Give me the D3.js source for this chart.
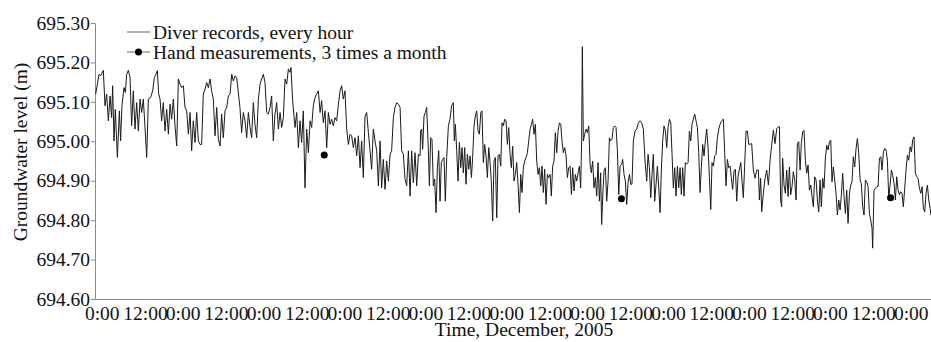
<!DOCTYPE html>
<html>
<head>
<meta charset="utf-8">
<script src="https://cdn.jsdelivr.net/npm/d3@7"></script>
<style>
  body { margin: 0; background: #fff; }
  svg text { font-family: "Liberation Serif", "Times New Roman", Times, serif !important; }
</style>
</head>
<body>
<div id="chart"></div>
<script>
// hourly diver readings [hour of month, level m]
const diverRecords = [
  [0.6,695.120],[3.6,695.170],[5.0,695.166],[7.4,695.180],[8.9,695.090],[10.4,695.120],[11.9,695.052],[13.4,695.115],
  [14.8,695.060],[15.7,695.141],[16.9,695.001],[18.1,695.081],[19.9,694.959],[21.7,695.077],[22.8,695.001],[24.0,695.090],
  [25.8,695.136],[27.0,695.124],[28.2,695.170],[29.7,695.180],[31.2,695.162],[32.6,695.039],[34.1,695.128],[35.6,695.031],
  [37.1,695.098],[38.6,695.026],[40.1,695.107],[41.5,695.073],[43.0,695.107],[44.5,695.035],[46.0,694.959],[47.5,695.107],
  [49.5,695.111],[51.3,695.128],[52.8,695.162],[54.3,695.170],[55.5,695.179],[56.7,695.120],[57.9,695.107],[59.3,695.052],
  [60.8,695.098],[62.3,695.026],[63.8,695.081],[65.3,695.018],[66.8,695.094],[68.2,695.056],[69.7,695.107],[71.2,695.039],
  [72.7,694.988],[74.2,695.158],[75.7,695.145],[77.1,695.136],[78.6,695.141],[80.1,695.086],[81.6,695.077],[83.1,695.018],
  [84.6,695.073],[86.0,694.976],[87.5,695.052],[89.0,694.997],[90.5,695.073],[92.0,695.001],[93.5,694.992],[94.9,694.992],
  [96.4,695.120],[97.9,695.132],[99.4,695.149],[100.9,695.136],[102.4,695.158],[103.8,695.128],[105.3,695.107],[106.8,695.014],
  [108.3,695.086],[109.8,695.005],[111.3,694.988],[112.7,695.069],[114.2,695.009],[115.7,695.077],[117.2,695.086],[118.7,695.115],
  [120.2,695.120],[121.7,695.170],[123.1,695.153],[124.6,695.166],[126.1,695.162],
  [129.0,695.086],[130.5,695.022],[132.0,695.073],[133.5,695.052],[135.0,695.009],[136.5,695.073],[138.0,695.035],[139.4,695.009],
  [140.9,695.098],[142.4,695.043],[143.9,695.009],[145.4,695.107],[146.9,695.145],[148.3,695.158],[149.8,695.170],[151.3,695.149],
  [152.8,695.073],[154.3,695.069],[155.8,695.086],[157.2,695.115],[158.7,695.001],[160.2,695.069],[161.7,695.098],[163.2,695.031],
  [164.7,695.073],[166.1,695.035],[167.6,695.060],[169.1,695.158],[170.6,695.145],[172.1,695.183],[173.6,695.175],[174.4,695.187],
  [175.9,695.103],[178.0,695.035],[179.5,695.073],[181.0,694.984],[182.5,695.052],[183.9,694.997],[185.4,695.077],[186.9,694.882],
  [188.4,695.031],[189.9,694.971],[191.4,695.052],[192.8,695.035],[194.3,695.090],[195.8,695.111],[197.3,695.120],[198.8,695.128],
  [200.3,695.073],[201.7,695.103],[203.2,695.047],[204.7,695.077],[206.2,694.984],[207.7,695.073],[209.2,695.043],[210.6,695.056],
  [212.1,695.039],[213.6,695.060],[215.1,695.052],[216.6,695.094],[218.1,695.128],[219.5,695.141],[221.0,695.107],[222.5,695.128],
  [224.0,695.031],[225.5,694.992],[227.0,695.018],[228.4,695.014],[229.9,694.984],[231.4,695.009],[232.9,694.963],[234.4,695.014],
  [235.9,694.933],[237.3,695.001],[238.8,694.908],[240.3,695.064],[241.8,695.073],[243.3,695.022],[244.8,694.976],[246.2,694.929],
  [247.7,695.031],[249.2,695.001],[250.7,694.976],[252.2,694.887],[253.7,695.001],[255.1,694.882],[256.6,694.954],[258.1,694.878],
  [259.6,694.950],[261.1,694.899],[262.6,694.967],[264.0,694.976],[265.5,695.060],[267.0,695.086],[268.5,695.098],[270.0,695.094],
  [271.5,695.086],[272.9,694.976],[274.4,694.967],[275.9,694.904],
  [277.4,694.887],[278.9,694.976],[280.4,694.861],[281.8,694.976],[283.3,694.895],[284.8,694.971],[286.3,694.887],[287.8,694.967],
  [289.3,694.963],[289.8,695.026],[290.7,695.031],[291.6,694.980],[292.8,695.064],[294.0,695.073],[295.2,695.086],[296.7,694.976],
  [297.6,694.887],[298.7,695.009],[299.9,695.005],[301.1,694.887],[302.3,694.904],[303.5,694.819],[304.7,694.933],[305.9,694.976],
  [307.1,694.848],[308.2,694.946],[309.4,694.954],[310.6,694.959],[311.8,694.848],[313.0,694.959],[314.5,695.039],[315.9,695.056],
  [317.4,695.090],[318.9,695.098],[319.8,695.001],[320.7,695.043],[321.9,694.976],[323.1,694.899],[324.3,694.997],[325.5,694.933],
  [326.6,694.984],[327.8,694.920],[329.0,694.984],[330.2,694.891],[331.4,694.967],[332.6,694.929],[333.8,694.963],[335.0,694.908],
  [336.1,694.959],[337.3,695.039],[338.5,695.064],[339.7,695.077],[340.9,695.026],[342.1,695.018],[343.3,695.073],[344.4,695.077],
  [345.6,694.946],[346.8,694.992],[348.0,694.963],[349.2,694.908],[350.4,694.984],[351.6,694.946],[352.7,694.899],[353.9,694.798],
  [355.1,694.950],[356.3,694.959],[357.5,694.806],[358.7,694.963],[359.9,694.967],[361.1,694.937],[362.2,695.047],[363.4,695.039],
  [364.6,695.056],[365.8,695.052],[367.0,694.992],[368.2,695.035],[369.4,694.967],[370.5,694.933],[371.7,694.988],[372.9,694.899],
  [374.1,694.916],[375.3,694.946],[376.5,694.891],[377.7,694.819],[378.9,694.916],[380.0,694.870],[381.2,694.933],[382.4,694.950],
  [383.6,694.959],[384.8,694.971],[386.0,695.001],[387.2,695.031],[388.4,695.043],[389.5,695.056],[390.7,695.018],[391.9,695.043],
  [393.1,694.950],[394.3,694.916],[395.5,694.933],[396.7,694.887],[397.8,694.937],[399.0,694.870],[400.2,694.929],[401.4,694.840],
  [402.6,694.916],[403.8,694.908],[405.0,694.916],[406.1,694.861],[407.3,694.937],[408.5,694.950],[409.7,695.022],[410.9,694.971],
  [412.1,695.026],[413.3,695.047],[414.5,695.043],[415.6,695.001],[416.8,694.971],[418.0,694.984],[419.2,694.963],[420.4,694.908],
  [421.6,694.933],[422.8,694.937],[424.0,694.865],[425.1,694.933],[426.3,694.874],[427.5,694.916],[428.7,694.899],[430.2,694.925],
  [431.1,694.937],[432.2,694.882],[433.1,695.001],[433.7,695.240],[434.6,695.001],[435.8,695.018],[437.0,695.031],[438.2,695.022],
  [439.4,695.039],[440.6,694.942],[441.7,694.920],[442.9,694.950],[444.1,694.882],[445.3,694.908],[446.5,694.861],[447.7,694.946],
  [448.9,694.848],[450.0,694.920],[450.9,694.789],[451.8,694.857],[453.0,694.925],[454.2,694.933],[455.4,694.848],[456.6,694.899],
  [457.8,695.009],[458.9,695.001],[460.1,695.005],[461.3,695.035],[462.5,695.039],[463.7,695.035],[464.9,694.976],[466.1,694.865],
  [467.3,694.937],[468.7,694.942],[469.6,694.954],[470.8,694.916],[472.0,694.899],[473.2,694.840],[474.4,694.895],[475.6,694.916],
  [476.8,694.891],[477.9,694.891],[479.1,695.001],[480.6,695.026],[482.1,695.031],[483.6,695.047],[485.1,695.052],[486.5,695.047],
  [488.0,695.031],[489.5,694.950],[491.0,694.899],[492.2,694.967],[493.4,694.933],[494.6,694.857],[495.7,694.916],[496.9,694.967],
  [498.1,694.848],[499.3,694.891],[500.5,694.937],[501.7,694.882],[502.9,694.819],[504.0,694.925],[505.2,695.001],[506.4,695.039],
  [507.6,695.026],[508.8,694.984],[510.0,695.035],[511.2,695.056],[512.4,695.047],[513.5,694.971],[514.7,694.882],[515.9,694.933],
  [517.1,694.861],[518.3,694.937],[519.5,694.882],[520.7,694.933],[521.8,694.865],[523.0,694.933],[524.2,694.861],[525.4,694.946],
  [526.6,694.942],[527.8,694.946],[529.0,695.026],[530.2,695.001],[531.3,695.043],[532.5,695.056],[533.7,695.069],[534.9,695.052],
  [536.1,695.035],[537.3,694.971],[538.5,694.870],[539.6,694.933],[540.8,694.992],[542.0,694.963],[543.2,695.001],[544.4,695.031],
  [545.6,694.984],[546.8,694.908],[548.0,694.827],[549.1,694.946],[550.3,694.937],[551.5,694.963],[552.7,694.967],[553.9,695.009],
  [555.1,695.031],[556.3,695.043],[557.7,695.052],[559.2,695.056],[560.4,694.971],[561.6,694.887],[562.8,694.954],[564.0,694.933],
  [565.2,694.937],[566.3,694.908],[567.5,694.878],[568.7,694.925],[569.9,694.929],[571.1,694.848],[572.3,694.912],[573.5,694.929],
  [574.7,694.946],[575.8,694.899],[577.0,694.857],[578.2,694.942],[579.4,695.026],[580.6,695.026],[581.8,694.992],
  [584.4,694.994],[585.9,694.927],[587.4,694.906],[588.9,694.927],[590.4,694.927],[591.3,694.851],[592.4,694.906],[593.3,694.821],
  [594.8,694.868],[596.3,694.906],[597.8,694.927],[599.3,694.889],[600.8,694.952],[602.2,694.990],[603.7,695.028],[605.2,694.994],
  [606.7,695.032],[608.2,695.037],[609.1,695.037],[610.2,694.851],[611.1,694.834],[612.0,694.957],[613.2,694.889],[614.4,694.868],
  [615.6,694.927],[616.8,694.860],[618.0,694.935],[619.1,694.864],[620.3,694.885],[621.5,694.923],[622.7,694.902],[623.9,694.851],
  [625.1,694.994],[626.3,694.999],[627.5,694.927],[628.6,694.994],[629.8,695.024],[631.0,695.028],[632.2,694.952],[633.4,694.919],
  [634.6,694.940],[635.8,694.876],[637.0,694.889],[638.1,694.860],[639.3,694.834],[640.5,694.910],[641.7,694.902],[642.9,694.851],
  [644.1,694.821],[645.3,694.902],[646.4,694.834],[647.6,694.906],[648.8,694.881],[650.0,694.957],[651.2,694.990],[652.4,694.978],
  [653.6,694.999],[654.8,695.003],[655.9,694.897],[657.1,694.935],[658.3,694.902],[659.5,694.868],[660.7,694.813],[661.9,694.851],
  [663.1,694.826],[664.2,694.864],[665.4,694.919],[666.6,694.860],[667.8,694.817],[669.0,694.876],[670.2,694.792],[671.4,694.868],
  [672.6,694.889],[673.7,694.897],[674.9,694.961],[676.1,694.935],[677.3,694.982],[678.5,695.007],[679.7,694.969],[680.9,694.902],
  [682.0,694.893],[683.2,694.834],[684.4,694.813],[685.6,694.902],[686.8,694.897],[688.0,694.885],[689.2,694.817],[690.4,694.800],
  [691.5,694.779],[692.1,694.729],[693.3,694.876],[694.5,694.881],[695.7,694.885],[696.9,694.885],[698.1,694.957],[699.3,694.961],
  [700.4,694.927],[701.6,694.973],[702.8,694.982],[704.0,694.978],[705.2,694.952],[706.4,694.855],[707.6,694.889],[708.7,694.927],
  [709.9,694.914],[711.1,694.893],[712.3,694.851],[713.5,694.910],[714.7,694.876],[715.9,694.864],[717.1,694.872],[718.2,694.868],
  [719.4,694.834],[720.6,694.881],[721.8,694.927],[723.0,694.965],[724.2,694.952],[725.4,694.986],[726.6,694.973],[727.7,695.003],
  [728.9,695.011],[730.1,694.919],[731.3,694.910],[732.5,694.906],[733.7,694.881],[734.9,694.868],[736.1,694.885],[737.2,694.830],
  [738.4,694.821],[739.6,694.868],[740.8,694.889],[742.0,694.851],[743.2,694.830],[744.0,694.812]
]

// hand measurements, 3 times a month
const handHours = [204, 468.5, 708]
const handLevels = [694.965, 694.854, 694.857]

const yTicks = [694.6, 694.7, 694.8, 694.9, 695.0, 695.1, 695.2, 695.3]
const xTickHours = d3.range(0, 721, 36)
const xTickLabels = xTickHours.map((h, i) => i % 2 === 0 ? "0:00" : "12:00")

const lineColor = "#1a1a1a"
const axisColor = "#8a8a8a"
const textColor = "#111"
const fontSize = 19.5

const width = 931
const height = 342
const margin = { top: 23, right: 0, bottom: 43, left: 95 }
const innerW = width - margin.left - margin.right
const innerH = height - margin.top - margin.bottom

const svg = d3.select("#chart").append("svg")
  .attr("width", width)
  .attr("height", height)

const bounds = svg.append("g")
  .attr("transform", `translate(${margin.left},${margin.top})`)

const xScale = d3.scaleLinear().domain([0, 744]).range([0, innerW])
const yScale = d3.scaleLinear().domain([694.6, 695.3]).range([innerH, 0])

// axes
const yAxis = bounds.append("g")
  .call(d3.axisLeft(yScale).tickValues(yTicks).tickFormat(d3.format(".2f"))
    .tickSizeInner(4).tickSizeOuter(0).tickPadding(1))
yAxis.selectAll("text").attr("font-size", fontSize).attr("fill", textColor)
yAxis.selectAll("line, path").attr("stroke", axisColor)

const xAxis = bounds.append("g")
  .attr("transform", `translate(0,${innerH})`)
  .call(d3.axisBottom(xScale).tickValues(xTickHours)
    .tickFormat((d, i) => xTickLabels[i]).tickSize(0).tickPadding(7))
xAxis.selectAll("text").attr("font-size", fontSize).attr("fill", textColor)
  .attr("dx", (d, i) => i % 2 === 0 ? 6.7 : 9.5)
xAxis.select(".domain").attr("stroke", axisColor)

// data
const line = d3.line()
  .x(d => xScale(d[0]))
  .y(d => yScale(d[1]))

bounds.append("path")
  .attr("d", line(diverRecords))
  .attr("fill", "none")
  .attr("stroke", lineColor)
  .attr("stroke-width", 1)

bounds.selectAll(".hand")
  .data(handHours)
  .join("circle")
    .attr("cx", d => xScale(d))
    .attr("cy", (d, i) => yScale(handLevels[i]))
    .attr("r", 3.5)
    .attr("fill", "#000")

// axis titles
svg.append("text")
  .attr("x", 524).attr("y", 336)
  .attr("text-anchor", "middle")
  .attr("font-size", fontSize).attr("fill", textColor)
  .text("Time, December, 2005")

svg.append("text")
  .attr("transform", "translate(27,152) rotate(-90)")
  .attr("text-anchor", "middle")
  .attr("font-size", fontSize).attr("fill", textColor)
  .text("Groundwater level (m)")

// legend
const legend = svg.append("g")
legend.append("line")
  .attr("x1", 127).attr("x2", 150).attr("y1", 32).attr("y2", 32)
  .attr("stroke", "#666")
legend.append("text")
  .attr("x", 153).attr("y", 38.5)
  .attr("font-size", fontSize).attr("fill", textColor)
  .text("Diver records, every hour")
legend.append("line")
  .attr("x1", 127).attr("x2", 150).attr("y1", 52).attr("y2", 52)
  .attr("stroke", "#666")
legend.append("circle")
  .attr("cx", 138.5).attr("cy", 52).attr("r", 3.5).attr("fill", "#000")
legend.append("text")
  .attr("x", 153).attr("y", 58.5)
  .attr("font-size", fontSize).attr("fill", textColor)
  .text("Hand measurements, 3 times a month")
</script>
</body>
</html>
